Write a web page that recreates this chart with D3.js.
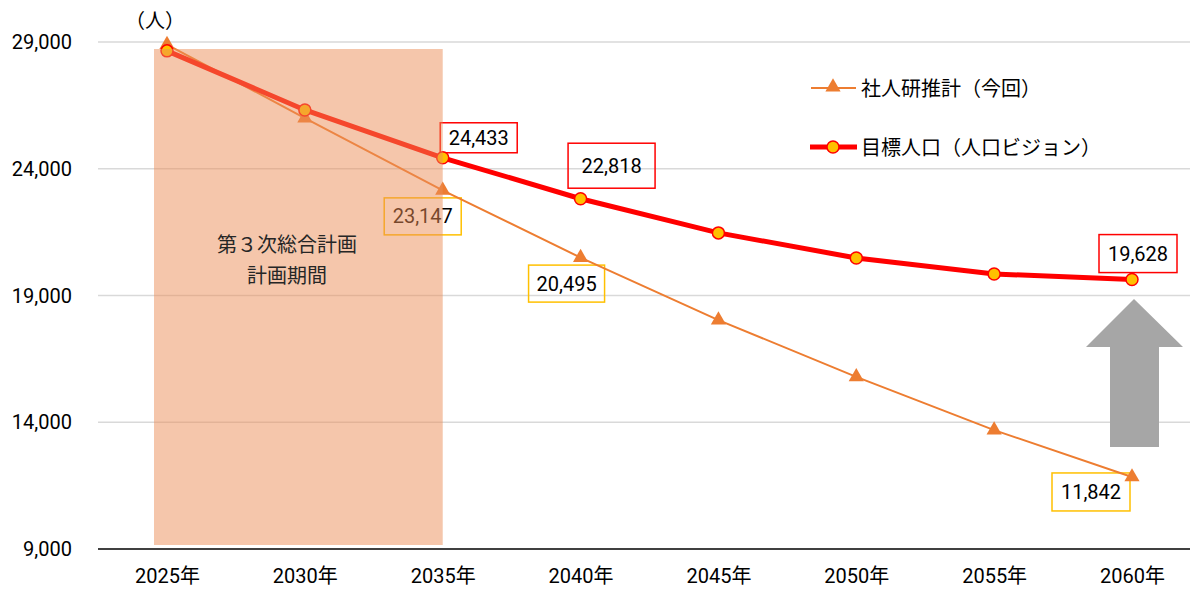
<!DOCTYPE html>
<html>
<head>
<meta charset="utf-8">
<script src="https://cdn.jsdelivr.net/npm/d3@7"></script>
<style>
body{margin:0;background:#fff;}
text{font-family:"Roboto","Noto Sans CJK JP",sans-serif;}
</style>
</head>
<body>
<main></main>
<script>
const years = ["2025年","2030年","2035年","2040年","2045年","2050年","2055年","2060年"];
const shajinken = [28900,26000,23147,20495,18030,15790,13690,11842];
const mokuhyo = [28650,26320,24433,22818,21470,20480,19850,19628];
const yTicks = [9000,14000,19000,24000,29000];
const seriesNames = ["社人研推計（今回）","目標人口（人口ビジョン）"];

// which points get a value box, and where the box sits relative to the point
const redLabels = [{i:2,dx:36,dy:-20,w:77,h:30},{i:3,dx:31,dy:-33,w:87,h:45},{i:7,dx:6,dy:-26,w:78,h:38}];
const orangeLabels = [{i:2,dx:-20,dy:26,w:77,h:37},{i:3,dx:-14,dy:26,w:76,h:37},{i:7,dx:-41,dy:15,w:78,h:38}];

function createSVG(){
    const width=1192, height=591;
    const svg=d3.select("main").append("svg")
        .attr("width",width).attr("height",height);

    const x=d3.scalePoint().domain(years).range([167,1132]);
    const y=d3.scaleLinear().domain([9000,29000]).range([549,42]);

    // gridlines
    svg.append("g").selectAll("line")
        .data(yTicks.slice(1))
        .enter().append("line")
        .attr("x1",98).attr("x2",1190)
        .attr("y1",d=>y(d)).attr("y2",d=>y(d))
        .attr("stroke","#d9d9d9").attr("stroke-width",1.5);

    // y axis labels
    svg.append("g").selectAll("text")
        .data(yTicks)
        .enter().append("text")
        .attr("x",72).attr("y",d=>y(d)+7)
        .attr("text-anchor","end")
        .attr("font-size",20).attr("fill","#000")
        .text(d=>d3.format(",")(d));

    svg.append("line")
        .attr("x1",98).attr("x2",1190)
        .attr("y1",y(9000)).attr("y2",y(9000))
        .attr("stroke","#000").attr("stroke-width",1.5);

    const xAxis=d3.axisBottom(x).tickSize(0).tickPadding(20);
    svg.append("g")
        .attr("transform","translate(0,"+y(9000)+")")
        .call(xAxis)
        .call(g=>g.select(".domain").remove())
        .selectAll("text")
        .attr("font-size",20).attr("fill","#000")
        .attr("font-family","Roboto, 'Noto Sans CJK JP', sans-serif");

    svg.append("text")
        .attr("x",155).attr("y",28)
        .attr("text-anchor","middle")
        .attr("font-size",20)
        .attr("font-family","'Noto Sans CJK JP', sans-serif")
        .text("（人）");

    // value boxes
    function boxes(labels,data,stroke){
        const g=svg.append("g").selectAll("g")
            .data(labels).enter().append("g")
            .attr("transform",d=>"translate("+(x(years[d.i])+d.dx)+","+(y(data[d.i])+d.dy)+")");
        g.append("rect")
            .attr("x",d=>-d.w/2).attr("y",d=>-d.h/2)
            .attr("width",d=>d.w).attr("height",d=>d.h)
            .attr("fill","none")
            .attr("stroke",stroke).attr("stroke-width",1.5);
        g.append("text")
            .attr("text-anchor","middle").attr("y",7)
            .attr("font-size",20).attr("fill","#000")
            .text(d=>d3.format(",")(data[d.i]));
    }
    boxes(redLabels,mokuhyo,"#ff0000");
    boxes(orangeLabels,shajinken,"#ffc000");

    // orange series
    const line=d3.line().x((d,i)=>x(years[i])).y(d=>y(d));
    svg.append("path")
        .datum(shajinken)
        .attr("d",line)
        .attr("fill","none").attr("stroke","#ed7d31").attr("stroke-width",2);
    const tri=d3.symbol().type(d3.symbolTriangle).size(100);
    svg.append("g").selectAll("path")
        .data(shajinken)
        .enter().append("path")
        .attr("d",tri)
        .attr("transform",(d,i)=>"translate("+x(years[i])+","+y(d)+")")
        .attr("fill","#ed7d31");

    // red series
    svg.append("path")
        .datum(mokuhyo)
        .attr("d",line)
        .attr("fill","none").attr("stroke","#ff0000").attr("stroke-width",5);
    svg.append("g").selectAll("circle")
        .data(mokuhyo)
        .enter().append("circle")
        .attr("cx",(d,i)=>x(years[i])).attr("cy",d=>y(d))
        .attr("r",6)
        .attr("fill","#ffc000").attr("stroke","#ff0000").attr("stroke-width",1.5);

    // shaded plan period (semi transparent, over the lines)
    svg.append("rect")
        .attr("x",154).attr("y",49)
        .attr("width",x(years[2])-154).attr("height",496)
        .attr("fill","#eb8d57").attr("opacity",0.5);
    svg.append("text")
        .attr("x",287).attr("y",252)
        .attr("text-anchor","middle").attr("font-size",20).attr("fill","#262626")
        .attr("font-family","'Noto Sans CJK JP', sans-serif")
        .text("第３次総合計画");
    svg.append("text")
        .attr("x",287).attr("y",283)
        .attr("text-anchor","middle").attr("font-size",20).attr("fill","#262626")
        .attr("font-family","'Noto Sans CJK JP', sans-serif")
        .text("計画期間");

    // gray arrow
    const ax=x(years[7])+2;
    const arrowPts=[[ax,299],[ax+49,347],[ax+25,347],[ax+25,447],[ax-24,447],[ax-24,347],[ax-48,347]];
    svg.append("path")
        .attr("d",d3.line()(arrowPts)+"Z")
        .attr("fill","#a6a6a6");

    // legend
    const leg=svg.append("g");
    leg.append("line").attr("x1",811).attr("x2",856).attr("y1",88).attr("y2",88)
        .attr("stroke","#ed7d31").attr("stroke-width",2);
    leg.append("path").attr("d",tri).attr("transform","translate(833,87)").attr("fill","#ed7d31");
    leg.append("text").attr("x",861).attr("y",96).attr("font-size",20)
        .attr("font-family","'Noto Sans CJK JP', sans-serif").text(seriesNames[0]);
    leg.append("line").attr("x1",810).attr("x2",857).attr("y1",147).attr("y2",147)
        .attr("stroke","#ff0000").attr("stroke-width",5);
    leg.append("circle").attr("cx",833).attr("cy",147).attr("r",6)
        .attr("fill","#ffc000").attr("stroke","#ff0000").attr("stroke-width",1.5);
    leg.append("text").attr("x",861).attr("y",155).attr("font-size",20)
        .attr("font-family","'Noto Sans CJK JP', sans-serif").text(seriesNames[1]);
}
createSVG();
</script>
</body>
</html>
